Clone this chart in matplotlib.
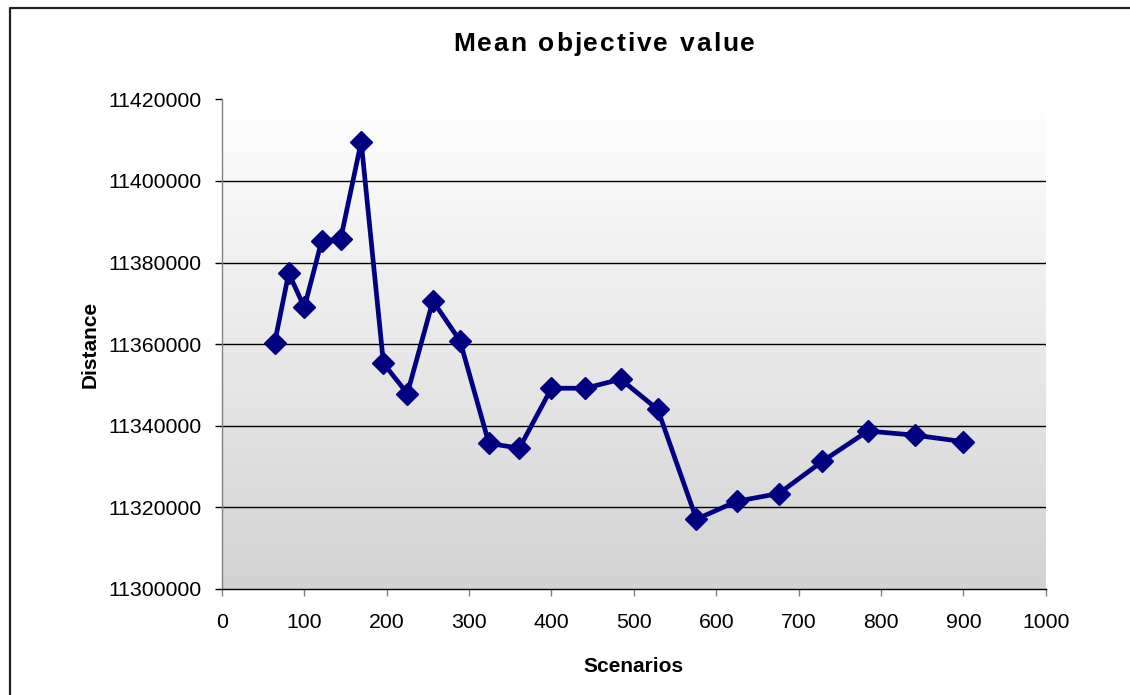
import numpy as np
import matplotlib
matplotlib.use("Agg")
import matplotlib.pyplot as plt
from matplotlib.lines import Line2D

plt.rcParams['font.family'] = ['Liberation Sans', 'DejaVu Sans']

# Number of scenarios and the mean objective value found for each
scenarios = [64, 81, 100, 121, 144, 169, 196, 225, 256, 289, 324, 361,
             400, 441, 484, 529, 576, 625, 676, 729, 784, 841, 900]
mean_distance = [11360400, 11377400, 11369000, 11385300, 11385700, 11409600,
                 11355300, 11347900, 11370600, 11360800, 11335700, 11334500,
                 11349200, 11349200, 11351400, 11344000, 11317100, 11321500,
                 11323400, 11331300, 11338700, 11337700, 11336100]

x_ticks = [0, 100, 200, 300, 400, 500, 600, 700, 800, 900, 1000]
y_ticks = [11300000, 11320000, 11340000, 11360000, 11380000, 11400000, 11420000]

title_text = 'Mean objective value'

W, H, DPI = 1130, 695, 100
fig = plt.figure(figsize=(W / DPI, H / DPI), dpi=DPI, facecolor='white')

# Chart frame (top and left edges inside the canvas)
fig.add_artist(Line2D([10 / W, 10 / W, 1.0], [0.0, 1 - 8 / H, 1 - 8 / H],
                      transform=fig.transFigure, color='#222222', lw=1.6))

ax = fig.add_axes([222 / W, 1 - 589 / H, (1045.7 - 222) / W, (589 - 99.3) / H])

# Vertical gradient fill of the plot area
grad = np.linspace(1.0, 0.0, 256).reshape(-1, 1)
top_c = np.array([1.0, 1.0, 1.0])
bot_c = np.array([0.827, 0.827, 0.827])
img = grad[..., None] * top_c + (1 - grad[..., None]) * bot_c
ax.imshow(img, extent=[0, 1, 0, 1], transform=ax.transAxes, aspect='auto',
          zorder=0, interpolation='bilinear')

ax.set_xlim(0, 1000)
ax.set_ylim(11300000, 11420000)
ax.set_xticks(x_ticks)
ax.set_yticks(y_ticks)
ax.set_xticklabels([str(v) for v in x_ticks])
ax.set_yticklabels([str(v) for v in y_ticks])

for v in y_ticks[1:-1]:
    ax.axhline(v, color='black', lw=1.0, zorder=1)

ax.plot(scenarios, mean_distance, color='#000080', lw=3.4, marker='D',
        markersize=11, markerfacecolor='#000080', markeredgecolor='#000080',
        zorder=3, clip_on=False)

for side in ('top', 'right'):
    ax.spines[side].set_visible(False)
ax.spines['left'].set_color('#808080')
ax.spines['left'].set_linewidth(1.0)
ax.spines['bottom'].set_color('black')
ax.spines['bottom'].set_linewidth(1.0)

ax.tick_params(axis='y', direction='out', length=5, width=1, color='black',
               labelsize=15.3, pad=10)
ax.tick_params(axis='x', direction='out', length=5, width=1, color='#808080',
               labelsize=15.3, pad=12)

ax.set_xlabel('Scenarios', fontsize=15, fontweight='bold', labelpad=18)
ax.set_ylabel('Distance', fontsize=15, fontweight='bold', labelpad=6)


def spaced_text(fig, s, cx, cy, spacing_px, **kw):
    """Draw a string centred at (cx, cy) figure pixels with extra letter spacing."""
    renderer = fig.canvas.get_renderer()
    widths = []
    for i in range(len(s) + 1):
        t = fig.text(0, 0, s[:i] if i else '', **kw)
        widths.append(t.get_window_extent(renderer).width if i else 0.0)
        t.remove()
    total = widths[-1] + spacing_px * (len(s) - 1)
    x0 = cx - total / 2
    for i, ch in enumerate(s):
        if ch == ' ':
            continue
        fig.text((x0 + widths[i] + spacing_px * i) / W, 1 - cy / H, ch,
                 ha='left', va='center', **kw)


spaced_text(fig, title_text, 604, 44, 2.0, fontsize=19, fontweight='bold')

fig.savefig('out.png', dpi=DPI)
